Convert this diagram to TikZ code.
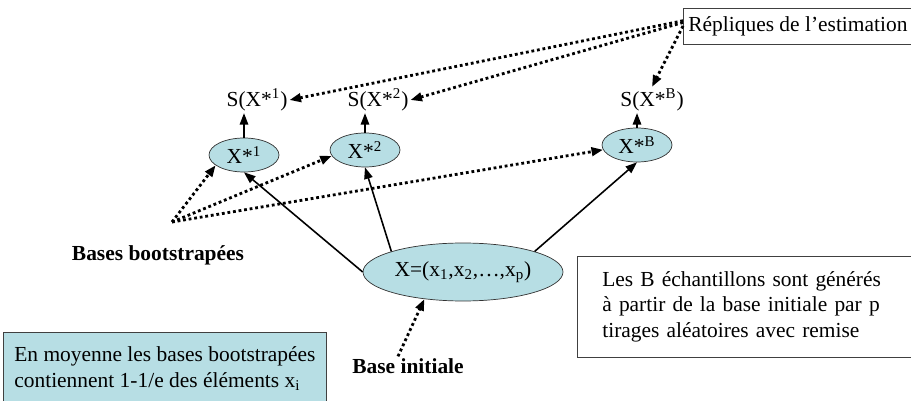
\documentclass[tikz,border=0pt]{standalone}
\usepackage{fontspec}
\setmainfont{Liberation Serif}
\usepackage{xcolor}
\usepackage{tikz}
\usetikzlibrary{shapes.geometric, arrows.meta, positioning}
\definecolor{bleuclair}{RGB}{183,222,228}

\begin{document}
\begin{tikzpicture}[
	% Style du schéma
	x=0.02cm, y=-0.02cm,
	every node/.style={font=\fontsize{12.2}{14.6}\selectfont},
	echantillon/.style={draw=black!80, ellipse, fill=bleuclair, minimum width=1.4cm, minimum height=0.68cm, inner sep=0pt},
	initiale/.style={draw=black!80, ellipse, fill=bleuclair, minimum width=4cm, minimum height=1.16cm, inner sep=0pt},
	replique/.style={inner sep=1pt},
	etiquette/.style={font=\fontsize{12.2}{14.6}\selectfont\bfseries, inner sep=1pt},
	cadre/.style={draw=black!75, rectangle, align=left, anchor=north west},
	fleche/.style={-{Triangle[length=2.3mm, width=1.7mm]}, line width=0.9pt},
	pointille/.style={-{Triangle[length=2.3mm, width=1.7mm]}, line width=1.6pt, dash pattern=on 1.6pt off 1.6pt}
]
\useasboundingbox (0,0) rectangle (911,401);
% Base initiale et échantillons bootstrap
\node[initiale] (base) at (463,272) {X=(x\textsubscript{1},x\textsubscript{2},…,x\textsubscript{p})};
\node[echantillon] (boot1) at (244,155) {X*\textsuperscript{1}};
\node[echantillon] (boot2) at (365,150) {X*\textsuperscript{2}};
\node[echantillon] (bootB) at (637,145) {X*\textsuperscript{B}};
% Estimations
\node[replique] (s1) at (257,100) {S(X*\textsuperscript{1})};
\node[replique] (s2) at (378,100) {S(X*\textsuperscript{2})};
\node[replique] (sB) at (652,100) {S(X*\textsuperscript{B})};
% Cadres de texte
\node[cadre, anchor=west, minimum height=0.72cm, inner xsep=0.1cm] (rep) at (683,26) {Répliques de l’estimation};
\node[cadre, text width=5.76cm, minimum height=2.02cm, inner xsep=0.5cm] (remise) at (577,256) {Les B échantillons sont générés\\à partir de la base initiale par p\\tirages aléatoires avec remise};
\node[cadre, fill=bleuclair, minimum height=1.44cm, inner xsep=0.22cm] (moyenne) at (3,332) {En moyenne les bases bootstrapées\\contiennent 1-1/e des éléments x\textsubscript{i}};
% Etiquettes
\node[etiquette] (lbboot) at (158,255) {Bases bootstrapées};
\coordinate (sommet) at (172,222);
\node[etiquette] (lbbase) at (408,366) {Base initiale};
% Tirages
\draw[fleche] (base.west) -- (boot1.south);
\draw[fleche] (base.164) -- (boot2.south);
\draw[fleche] (base.16) -- (bootB.south);
\draw[fleche] (boot1.north) -- (boot1.north |- s1.south);
\draw[fleche] (boot2.north) -- (boot2.north |- s2.south);
\draw[fleche] (bootB.north) -- (bootB.north |- sB.south);
% Renvois en pointillés
\draw[pointille] (sommet) -- (boot1.200);
\draw[pointille] (sommet) -- (boot2.190);
\draw[pointille] (sommet) -- (bootB.188);
\draw[pointille] ([xshift=-0.2cm]lbbase.north) -- (base.215);
\draw[pointille] ([yshift=3pt]rep.west) -- (s1.east);
\draw[pointille] ([yshift=2pt]rep.west) -- (s2.east);
\draw[pointille] ([yshift=0pt]rep.west) -- (sB.north);
\end{tikzpicture}
\end{document}
